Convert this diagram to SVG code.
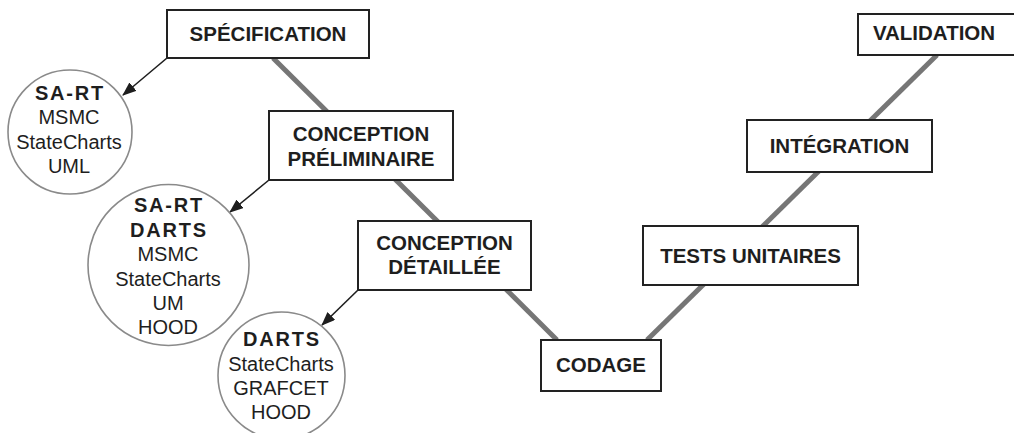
<svg xmlns="http://www.w3.org/2000/svg" width="1014" height="433" viewBox="0 0 1014 433">
  <style>
    .box { fill: #ffffff; stroke: #222222; stroke-width: 2; }
    .bubble { fill: #ffffff; stroke: #8a8a8a; stroke-width: 1.6; }
    .t { font-family: "Liberation Sans", Arial, sans-serif; font-size: 20px; fill: #1e1e1e; text-anchor: middle; }
    .b { font-weight: bold; font-size: 20.5px; }
    .sp { font-weight: bold; letter-spacing: 1.8px; }
    .vline { stroke: #767676; stroke-width: 5; fill: none; }
    .arrow { stroke: #1e1e1e; stroke-width: 1.6; fill: none; marker-end: url(#head); }
  </style>
  <defs>
    <marker id="head" viewBox="0 0 14 11" refX="13" refY="5.5" markerWidth="14" markerHeight="11" markerUnits="userSpaceOnUse" orient="auto">
      <path d="M0,0 L14,5.5 L0,11 z" fill="#1e1e1e"/>
    </marker>
  </defs>

  <!-- V-cycle backbone and tool arrows -->
  <g id="connectors">
    <line class="vline" x1="273" y1="58" x2="557" y2="340"/>
    <line class="vline" x1="647" y1="340" x2="937" y2="55"/>
    <line class="arrow" x1="167" y1="58" x2="123" y2="95"/>
    <line class="arrow" x1="269" y1="180" x2="230" y2="212"/>
    <line class="arrow" x1="358" y1="290" x2="322" y2="325"/>
  </g>

  <g id="specification">
    <rect class="box" x="167" y="10" width="202" height="48"/>
    <text class="t b" x="268" y="41">SPÉCIFICATION</text>
  </g>

  <g id="conception-preliminaire">
    <rect class="box" x="269" y="111" width="184" height="69"/>
    <text class="t b" x="361" y="141">CONCEPTION</text>
    <text class="t b" x="361" y="166">PRÉLIMINAIRE</text>
  </g>

  <g id="conception-detaillee">
    <rect class="box" x="358" y="221" width="173" height="69"/>
    <text class="t b" x="444.5" y="250">CONCEPTION</text>
    <text class="t b" x="444.5" y="274">DÉTAILLÉE</text>
  </g>

  <g id="codage">
    <rect class="box" x="541" y="340" width="120" height="51"/>
    <text class="t b" x="601" y="372">CODAGE</text>
  </g>

  <g id="tests-unitaires">
    <rect class="box" x="643" y="226" width="215" height="59"/>
    <text class="t b" x="750.5" y="263">TESTS UNITAIRES</text>
  </g>

  <g id="integration">
    <rect class="box" x="747" y="120" width="185" height="52"/>
    <text class="t b" x="839.5" y="153">INTÉGRATION</text>
  </g>

  <g id="validation">
    <rect class="box" x="858" y="14" width="160" height="41"/>
    <text class="t b" x="934" y="40">VALIDATION</text>
  </g>

  <g id="tools-specification">
    <circle class="bubble" cx="70" cy="132" r="62"/>
    <text class="t sp" x="70" y="100">SA-RT</text>
    <text class="t" x="69" y="124">MSMC</text>
    <text class="t" x="69" y="149">StateCharts</text>
    <text class="t" x="69" y="173">UML</text>
  </g>

  <g id="tools-preliminaire">
    <circle class="bubble" cx="168.5" cy="265" r="80.5"/>
    <text class="t sp" x="169" y="212">SA-RT</text>
    <text class="t sp" x="169" y="237">DARTS</text>
    <text class="t" x="168" y="261">MSMC</text>
    <text class="t" x="168" y="286">StateCharts</text>
    <text class="t" x="168" y="310">UM</text>
    <text class="t" x="168" y="334">HOOD</text>
  </g>

  <g id="tools-detaillee">
    <circle class="bubble" cx="281.5" cy="375.5" r="63.5"/>
    <text class="t sp" x="282" y="346">DARTS</text>
    <text class="t" x="281" y="371">StateCharts</text>
    <text class="t" x="281" y="395">GRAFCET</text>
    <text class="t" x="281" y="419">HOOD</text>
  </g>
</svg>
